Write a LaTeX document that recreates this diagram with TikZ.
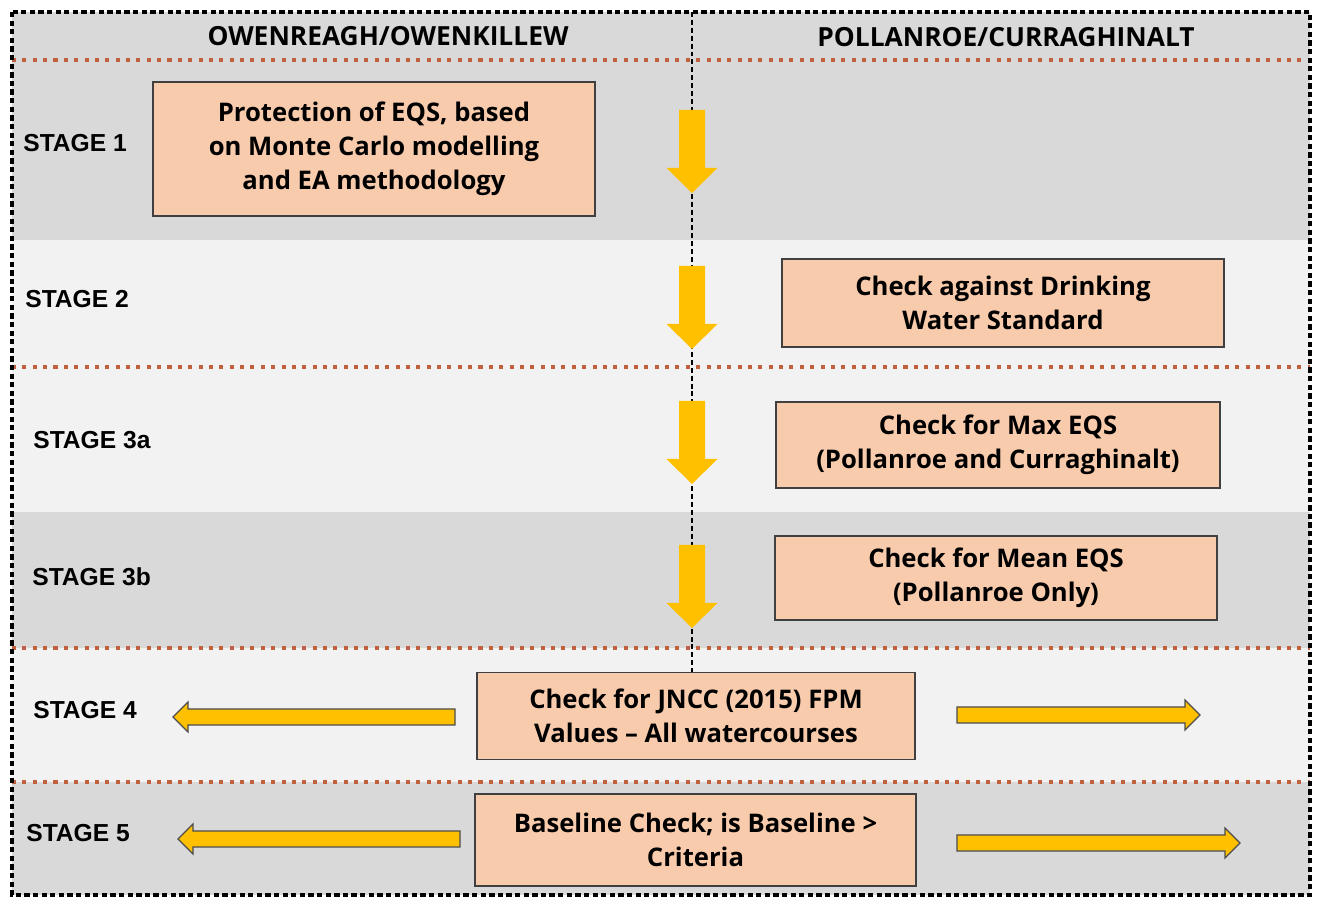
\documentclass[tikz,border=0pt]{standalone}
\usepackage{fontspec}
\setmainfont{Open Sans}
\newfontfamily\stagefont{Liberation Sans}
\usetikzlibrary{
    arrows.meta,
    calc,
    positioning,
}
\newdimen\pxu \pxu=0.02cm
\definecolor{BoxFill}{HTML}{F8CBAD}
\definecolor{BandDark}{HTML}{D9D9D9}
\definecolor{BandLight}{HTML}{F2F2F2}
\definecolor{ArrowGold}{HTML}{FFC000}
\definecolor{RuleRed}{HTML}{C0603E}
\tikzstyle{step_box}=[draw=black!75,line width=1.1pt,fill=BoxFill,rectangle,align=center,inner sep=0pt,font=\fontsize{14.6}{19.4}\selectfont\bfseries]
\tikzstyle{stage_label}=[anchor=west,inner sep=0pt,font=\stagefont\fontsize{14}{16}\selectfont\bfseries]
\tikzstyle{region_label}=[inner sep=0pt,font=\fontsize{15}{16}\selectfont\bfseries]
\tikzstyle{stage_rule}=[RuleRed,line width=2.3pt,dash pattern=on 2.3pt off 3.6pt]
\tikzstyle{arrow_outline}=[fill=ArrowGold,draw=black!70,line width=0.7pt,line join=miter]
\newcommand{\DownArrow}[2]{% centre x, top y
    \fill[ArrowGold] (#1-13,#2) -- (#1+13,#2) -- (#1+13,#2+58) -- (#1+25.5,#2+58)
        -- (#1,#2+83) -- (#1-25.5,#2+58) -- (#1-13,#2+58) -- cycle;
}
\newcommand{\GoRight}[3]{% tail x, tip x, y
    \filldraw[arrow_outline] (#1,#3-8) -- (#2-15,#3-8) -- (#2-15,#3-15) -- (#2,#3)
        -- (#2-15,#3+15) -- (#2-15,#3+8) -- (#1,#3+8) -- cycle;
}
\newcommand{\GoLeft}[3]{% tail x, tip x, y
    \filldraw[arrow_outline] (#1,#3-8) -- (#2+15,#3-8) -- (#2+15,#3-15) -- (#2,#3)
        -- (#2+15,#3+15) -- (#2+15,#3+8) -- (#1,#3+8) -- cycle;
}

\begin{document}
\begin{tikzpicture}[x=0.02cm,y=-0.02cm]
    \useasboundingbox (0,0) rectangle (1319,901);

    % Bands
    \fill[BandDark] (12,12) rectangle (1310,240);
    \fill[BandLight] (12,240) rectangle (1310,512);
    \fill[BandDark] (12,512) rectangle (1310,648);
    \fill[BandLight] (12,648) rectangle (1310,782);
    \fill[BandDark] (12,782) rectangle (1310,895);

    \draw[stage_rule] (12,60) -- (1310,60);
    \draw[stage_rule] (12,367) -- (1310,367);
    \draw[stage_rule] (12,648) -- (1310,648);
    \draw[stage_rule] (12,782) -- (1310,782);

    % Divider
    \coordinate (split top) at (692,12);
    \coordinate (split end) at (692,673);
    \draw[line width=1.5pt,dash pattern=on 2.8pt off 1.7pt] (split top) -- (split end);

    % Arrows
    \DownArrow{692}{110}
    \DownArrow{692}{266}
    \DownArrow{692}{401}
    \DownArrow{692}{545}
    \GoLeft{455}{173}{717}
    \GoLeft{460}{178}{839}
    \GoRight{957}{1200}{715}
    \GoRight{957}{1240}{843}

    % Steps
    \node[step_box,minimum width=442\pxu,minimum height=134\pxu] (EQS) at (374,149)
        {Protection of EQS, based\\on Monte Carlo modelling\\and EA methodology};
    \node[step_box,minimum width=442\pxu,minimum height=88\pxu] (Drinking) at (1003,303)
        {Check against Drinking\\Water Standard};
    \node[step_box,minimum width=444\pxu,minimum height=86\pxu] (MaxEQS) at (998,445)
        {Check for Max EQS\\(Pollanroe and Curraghinalt)};
    \node[step_box,minimum width=442\pxu,minimum height=84\pxu] (MeanEQS) at (996,578)
        {Check for Mean EQS\\(Pollanroe Only)};
    \node[step_box,minimum width=438\pxu,minimum height=87\pxu] (JNCC) at (696,716)
        {Check for JNCC (2015) FPM\\Values -- All watercourses};
    \node[step_box,minimum width=441\pxu,minimum height=92\pxu] (Baseline) at (695.5,840)
        {Baseline Check; is Baseline >\\Criteria};

    % Labels
    \node[region_label] (Owen) at (388,36) {OWENREAGH/OWENKILLEW};
    \node[region_label] (Pollan) at (1006,37) {POLLANROE/CURRAGHINALT};
    \node[stage_label] (stage1) at (23,143) {STAGE 1};
    \node[stage_label] (stage2) at (25,299) {STAGE 2};
    \node[stage_label] (stage3a) at (33,440) {STAGE 3a};
    \node[stage_label] (stage3b) at (32,577) {STAGE 3b};
    \node[stage_label] (stage4) at (33,710) {STAGE 4};
    \node[stage_label] (stage5) at (26,833) {STAGE 5};

    \draw[line width=1.8pt,dash pattern=on 3pt off 1.9pt] (12,12) rectangle (1310,895);
\end{tikzpicture}
\end{document}
